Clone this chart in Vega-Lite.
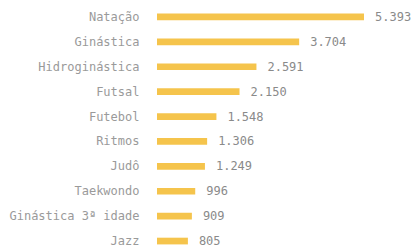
{
  "$schema": "https://vega.github.io/schema/vega-lite/v6.json",
  "autosize": "none",
  "padding": {"left": 157, "top": 4.5, "right": 0, "bottom": 0},
  "width": 261,
  "height": 249,
  "background": "white",
  "config": {
    "view": {"stroke": null},
    "locale": {"number": {"decimal": ",", "thousands": ".", "grouping": [3], "currency": ["R$", ""]}}
  },
  "data": {"values": [
    {"modalidade": "Natação", "alunos": 5393},
    {"modalidade": "Ginástica", "alunos": 3704},
    {"modalidade": "Hidroginástica", "alunos": 2591},
    {"modalidade": "Futsal", "alunos": 2150},
    {"modalidade": "Futebol", "alunos": 1548},
    {"modalidade": "Ritmos", "alunos": 1306},
    {"modalidade": "Judô", "alunos": 1249},
    {"modalidade": "Taekwondo", "alunos": 996},
    {"modalidade": "Ginástica 3ª idade", "alunos": 909},
    {"modalidade": "Jazz", "alunos": 805}
  ]},
  "encoding": {
    "y": {"field": "modalidade", "type": "nominal", "sort": null,
      "scale": {"paddingInner": 0.73, "paddingOuter": 0.365},
      "axis": {"title": null, "domain": false, "ticks": false, "labelPadding": 18,
        "labelFont": "DejaVu Sans Mono", "labelFontSize": 12, "labelColor": "#9a9a9a"}},
    "x": {"field": "alunos", "type": "quantitative", "scale": {"domain": [0, 6800]}, "axis": null}
  },
  "layer": [
    {"mark": {"type": "bar", "color": "#F5C44C"}},
    {"mark": {"type": "text", "align": "left", "dx": 11, "font": "DejaVu Sans Mono", "fontSize": 12, "color": "#8a8a8a"},
     "encoding": {"text": {"field": "alunos", "type": "quantitative", "format": ",d"}}}
  ]
}
